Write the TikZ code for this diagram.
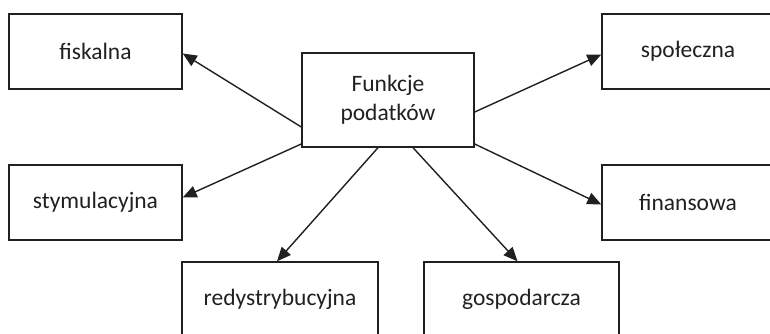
\documentclass[tikz,border=0pt]{standalone}
\usepackage{fontspec}
\setmainfont{Carlito}
\usetikzlibrary{arrows.meta,calc}
\definecolor{ink}{HTML}{231F20}
\begin{document}
\begin{tikzpicture}[x=1pt,y=-1pt,
  box/.style={draw=ink,line width=1.4pt,text=ink,align=center,inner sep=0pt,
    font=\fontsize{23.5}{29}\selectfont},
  conn/.style={draw=ink,line width=1.4pt,-{Triangle[length=14pt,width=12pt]}}]
\useasboundingbox (0,0) rectangle (770,334);
\clip (0,0) rectangle (770,334);
\node[box,minimum width=173pt,minimum height=75pt] (f) at (95.5,51.5) {fiskalna};
\node[box,minimum width=173pt,minimum height=75pt] (s) at (95.5,202.5) {stymulacyjna};
\node[box,minimum width=172pt,minimum height=75pt] (sp) at (688,51.5) {społeczna};
\node[box,minimum width=172pt,minimum height=75pt] (fi) at (688,202.5) {finansowa};
\node[box,minimum width=172pt,minimum height=94pt] (c) at (388,100) {Funkcje\\podatków};
\node[box,minimum width=196pt,minimum height=74pt] (r) at (280,299) {redystrybucyjna};
\node[box,minimum width=195pt,minimum height=74pt] (g) at (521.5,299) {gospodarcza};
\draw[conn] ($(c.west)+(0,27)$) -- ($(f.east)+(0,2)$);
\draw[conn] ($(c.west)+(0,44)$) -- ($(s.east)+(0,-5)$);
\draw[conn] ($(c.east)+(0,12)$) -- ($(sp.west)+(0,3)$);
\draw[conn] ($(c.east)+(0,44)$) -- ($(fi.west)+(0,2)$);
\draw[conn] ($(c.south)+(-10,0)$) -- ($(r.north)+(-3,0)$);
\draw[conn] ($(c.south)+(25,0)$) -- ($(g.north)+(-4,0)$);
\end{tikzpicture}
\end{document}
